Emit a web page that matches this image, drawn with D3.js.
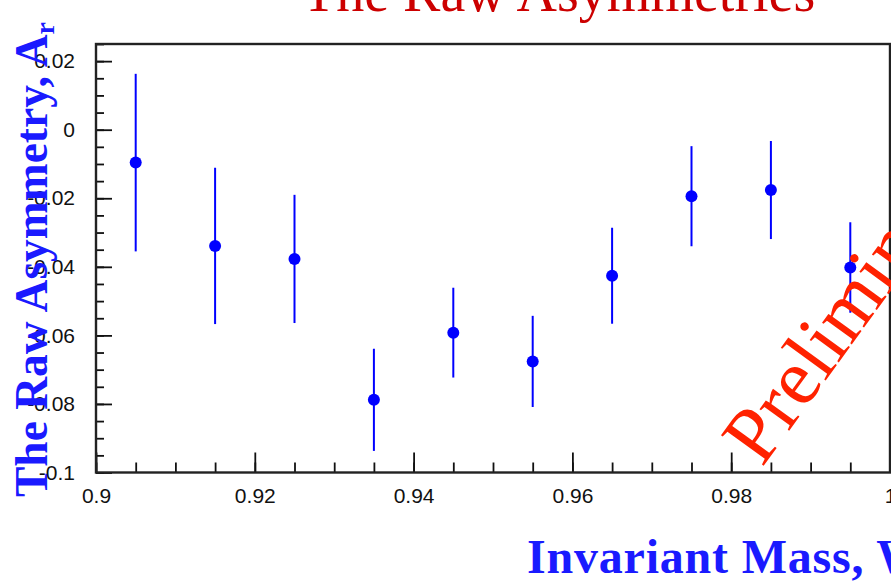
<!DOCTYPE html>
<html>
<head>
<meta charset="utf-8">
<script src="https://cdn.jsdelivr.net/npm/d3@7"></script>
<style>
  body { margin: 0; background: #fff; }
  svg { display: block; }
</style>
</head>
<body>
<script>
// W bin centres and raw asymmetry per bin
var massBins = [0.905, 0.915, 0.925, 0.935, 0.945, 0.955, 0.965, 0.975, 0.985, 0.995];
var asym     = [-0.0096, -0.0339, -0.0377, -0.0788, -0.0592, -0.0676, -0.0426, -0.0194, -0.0176, -0.0402];
var asymErr  = [0.0259, 0.0228, 0.0187, 0.0149, 0.0131, 0.0133, 0.0140, 0.0146, 0.0143, 0.0132];

var xTicks = [0.9, 0.92, 0.94, 0.96, 0.98, 1.0];
var xTickLabels = ["0.9", "0.92", "0.94", "0.96", "0.98", "1"];
var yTicks = [-0.1, -0.08, -0.06, -0.04, -0.02, 0, 0.02];
var yTickLabels = ["-0.1", "-0.08", "-0.06", "-0.04", "-0.02", "0", "0.02"];

var data = massBins.map(function (w, i) { return {w: w, a: asym[i], e: asymErr[i]}; });

const width = 891, height = 581;
const frame = {left: 96, right: 890, top: 44, bottom: 472.5};

var svg = d3.select("body").append("svg")
  .attr("width", width)
  .attr("height", height);

const xScale = d3.scaleLinear().domain([0.9, 1.0]).range([frame.left, frame.right]);
const yScale = d3.scaleLinear().domain([-0.1, 0.025]).range([frame.bottom, frame.top]);

// title (mostly cut off at the top in the original)
svg.append("text")
  .attr("x", 302)
  .attr("y", 11)
  .attr("font-family", "Liberation Serif, Times New Roman, serif")
  .attr("font-size", 56)
  .attr("fill", "#cc0000")
  .text("The Raw Asymmetries");

// minor ticks
var xMinor = d3.range(0, 21).map(function (i) { return 0.9 + i * 0.005; });
var yMinor = d3.range(0, 26).map(function (i) { return -0.1 + i * 0.005; });

const xAxisMinor = d3.axisBottom(xScale).tickValues(xMinor).tickFormat("").tickSize(-10);
const yAxisMinor = d3.axisLeft(yScale).tickValues(yMinor).tickFormat("").tickSize(-8);

svg.append("g")
  .attr("transform", `translate(0,${frame.bottom})`)
  .call(xAxisMinor)
  .call(g => g.select(".domain").remove());
svg.append("g")
  .attr("transform", `translate(${frame.left},0)`)
  .call(yAxisMinor)
  .call(g => g.select(".domain").remove());

// major ticks + labels
const xAxis = d3.axisBottom(xScale)
  .tickValues(xTicks)
  .tickFormat(function (d, i) { return xTickLabels[i]; })
  .tickSize(-20)
  .tickPadding(16);
const yAxis = d3.axisLeft(yScale)
  .tickValues(yTicks)
  .tickFormat(function (d, i) { return yTickLabels[i]; })
  .tickSize(-16)
  .tickPadding(21);

svg.append("g")
  .attr("transform", `translate(0,${frame.bottom})`)
  .call(xAxis)
  .call(g => g.select(".domain").remove());
svg.append("g")
  .attr("transform", `translate(${frame.left},0)`)
  .call(yAxis)
  .call(g => g.select(".domain").remove());

svg.selectAll(".tick line").attr("stroke", "#111").attr("stroke-width", 1.8);
svg.selectAll(".tick text")
  .attr("font-family", "Liberation Sans, Arial, sans-serif")
  .attr("font-size", 21)
  .attr("fill", "#111");

// frame
svg.append("rect")
  .attr("x", frame.left)
  .attr("y", frame.top)
  .attr("width", frame.right - frame.left)
  .attr("height", frame.bottom - frame.top)
  .attr("fill", "none")
  .attr("stroke", "#222")
  .attr("stroke-width", 2.4);

// error bars
svg.append("g").selectAll("line").data(data).enter()
  .append("line")
  .attr("x1", d => xScale(d.w))
  .attr("x2", d => xScale(d.w))
  .attr("y1", d => yScale(d.a + d.e))
  .attr("y2", d => yScale(d.a - d.e))
  .attr("stroke", "#0000ff")
  .attr("stroke-width", 2);

svg.append("g").selectAll("circle").data(data).enter()
  .append("circle")
  .attr("cx", d => xScale(d.w))
  .attr("cy", d => yScale(d.a))
  .attr("r", 6)
  .attr("fill", "#0000ff");

// watermark
svg.append("text")
  .attr("transform", "translate(762,468) rotate(-54)")
  .attr("font-family", "Liberation Serif, Times New Roman, serif")
  .attr("font-size", 80)
  .attr("fill", "#ff2200")
  .text("Preliminary");

// axis titles
var yLab = svg.append("text")
  .attr("transform", "translate(47,497) rotate(-90)")
  .attr("font-family", "Liberation Serif, Times New Roman, serif")
  .attr("font-weight", "bold")
  .attr("font-size", 45.5)
  .attr("fill", "#1a1aff");
yLab.append("tspan").text("The Raw Asymmetry, A");
yLab.append("tspan").attr("font-size", 28).attr("dy", 7).text("r");

svg.append("text")
  .attr("x", 527)
  .attr("y", 573)
  .attr("font-family", "Liberation Serif, Times New Roman, serif")
  .attr("font-weight", "bold")
  .attr("font-size", 48)
  .attr("letter-spacing", 0.8)
  .attr("fill", "#1a1aff")
  .text("Invariant Mass, W");
</script>
</body>
</html>
